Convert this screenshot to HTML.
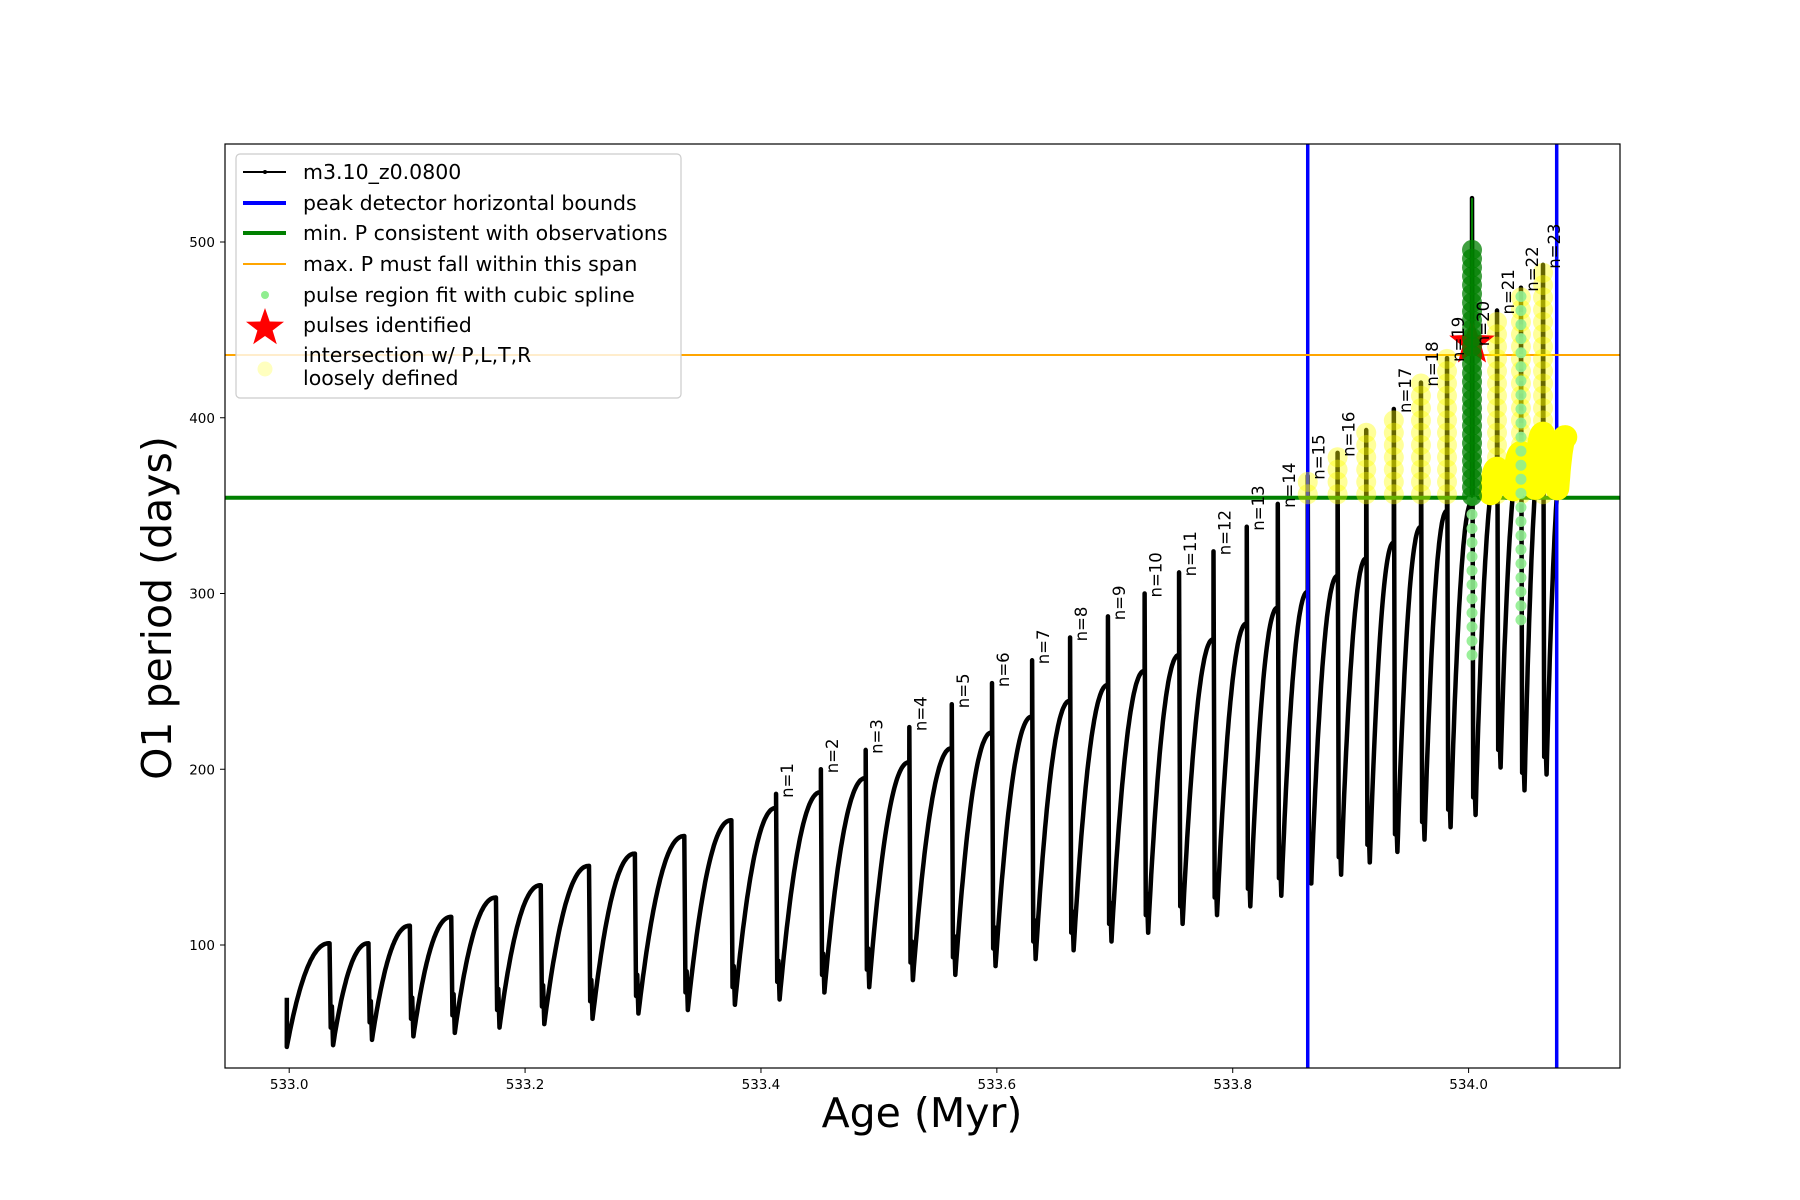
<!DOCTYPE html>
<html><head><meta charset="utf-8"><style>
html,body{margin:0;padding:0;background:#fff;}
svg{display:block;font-family:"DejaVu Sans","Liberation Sans",sans-serif;}
</style></head><body>
<svg id="chart" width="1800" height="1200" viewBox="0 0 1800 1200" xmlns="http://www.w3.org/2000/svg">
<defs><clipPath id="plotclip"><rect x="225" y="144" width="1395" height="924"/></clipPath></defs>
<rect x="0" y="0" width="1800" height="1200" fill="#fff"/>
<g id="plot" clip-path="url(#plotclip)"></g>
<rect x="225" y="144" width="1395" height="924" fill="none" stroke="#000" stroke-width="1.2"/>
<g id="xticks"></g>
<g id="yticks"></g>
<text x="922" y="1127" font-size="41" text-anchor="middle">Age (Myr)</text>
<text transform="translate(160,608) rotate(-90)" font-size="41" text-anchor="middle" dominant-baseline="middle">O1 period (days)</text>
<g>
<rect x="236" y="154" width="445" height="244" rx="4" fill="rgba(255,255,255,0.8)" stroke="#ccc" stroke-width="1.2"/>
<g><line x1="243" y1="172" x2="286" y2="172" stroke="#000" stroke-width="2"/><circle cx="265" cy="172" r="2" fill="#000"/><text x="303" y="179" font-size="20.5">m3.10_z0.0800</text></g>
<g><line x1="243" y1="203" x2="286" y2="203" stroke="#00f" stroke-width="4"/><text x="303" y="210" font-size="20.5">peak detector horizontal bounds</text></g>
<g><line x1="243" y1="233" x2="286" y2="233" stroke="green" stroke-width="4"/><text x="303" y="240" font-size="20.5">min. P consistent with observations</text></g>
<g><line x1="243" y1="264" x2="286" y2="264" stroke="orange" stroke-width="2"/><text x="303" y="271" font-size="20.5">max. P must fall within this span</text></g>
<g><circle cx="265" cy="295" r="4" fill="lightgreen"/><text x="303" y="302" font-size="20.5">pulse region fit with cubic spline</text></g>
<g><polygon id="legstar" fill="red"/><text x="303" y="332" font-size="20.5">pulses identified</text></g>
<g><circle cx="265" cy="369" r="7.5" fill="rgba(255,255,0,0.25)"/><text x="303" y="362" font-size="20.5">intersection w/ P,L,T,R</text><text x="303" y="385" font-size="20.5">loosely defined</text></g>
</g>
</svg>
<script>
// ---- data ----
const dropAges=[533.0342,533.0672,533.1023,533.1374,533.1753,533.2133,533.2542,533.2931,533.3350,533.3749,
533.4128,533.4508,533.4888,533.5258,533.5618,533.5959,533.6299,533.6621,533.6942,533.7253,533.7545,533.7837,533.8119,533.8382,533.8636,533.8889,
533.9132,533.9366,533.9596,533.9817,534.0029,534.0241,534.0444,534.0631];
const peakVals=[101,101,111,116,127,134,145,152,162,171,178,187,195,204,212,221,230,239,248,256,265,274,283,292,301,310,320,329,338,347,352,371,380,391];
const spikeTops=[101,101,111,116,127,134,145,152,162,171,186,200,211,224,237,249,262,275,287,300,312,324,338,351,367,380,393,405,420,434,525,461,474,487];
const labelVals=[101,101,111,116,127,134,145,152,162,171,186,200,211,224,237,249,262,275,287,300,312,324,338,351,367,380,393,405,420,434,443,461,474,487];
const minVals=[42,43,46,48,50,53,55,58,61,63,66,69,73,76,80,83,88,92,97,102,107,112,117,122,128,135,140,147,153,160,167,174,201,188,197];
const pulseLabels=["","","","","","","","","","","n=1","n=2","n=3","n=4","n=5","n=6","n=7","n=8","n=9","n=10","n=11","n=12","n=13","n=14","n=15","n=16","","n=17","n=18","n=19","n=20","n=21","n=22","n=23"];
const startAge=532.998, startSpike=70, endAge=534.082, endPeak=389;
const boundAges=[533.8636,534.0747];
const minP=354.5, maxP=435.7;
const starAge=534.0029, starP=442.5;
const xTicks=[533.0,533.2,533.4,533.6,533.8,534.0];
const xTickLabels=["533.0","533.2","533.4","533.6","533.8","534.0"];
const yTicks=[100,200,300,400,500];
const yTickLabels=["100","200","300","400","500"];

// ---- scales ----
const X=a=>289.2+(a-533)*1179.4;
const Y=p=>945-(p-100)*1.7575;
const NS="http://www.w3.org/2000/svg";
const plot=document.getElementById('plot');
function mk(tag,attrs,parent){const e=document.createElementNS(NS,tag);for(const k in attrs)e.setAttribute(k,attrs[k]);(parent||plot).appendChild(e);return e;}

// segments
const segs=[];
for(let k=0;k<=dropAges.length;k++){
  const a0=k===0?startAge:dropAges[k-1]+0.003;
  const a1=k<dropAges.length?dropAges[k]:endAge;
  const mn=minVals[k], pk=k<dropAges.length?peakVals[k]:endPeak;
  const pts=[];
  for(let i=0;i<=40;i++){const t=i/40;pts.push([a0+(a1-a0)*t,mn+(pk-mn)*(1-Math.pow(1-t,2.2))]);}
  segs.push(pts);
}
// black curve
let d=`M${X(startAge)},${Y(startSpike)}`;
segs.forEach((pts,k)=>{
  pts.forEach(p=>{d+=`L${X(p[0]).toFixed(1)},${Y(p[1]).toFixed(1)}`;});
  if(k<dropAges.length){
    const a=dropAges[k], mn=minVals[k+1];
    d+=`L${X(a)},${Y(spikeTops[k])}L${X(a+0.001)},${Y(mn+10)}L${X(a+0.002)},${Y(mn+22)}L${X(a+0.003)},${Y(mn)}`;
  }
});
const curve=mk('path',{d:d,fill:'none',stroke:'#000','stroke-width':4.5,'stroke-linejoin':'round'});



// bounds lines
boundAges.forEach((a,i)=>{
  const l=mk('line',{x1:X(a),x2:X(a),y1:140,y2:1072,stroke:'#00f','stroke-width':3.5});
  
  
});
const gl=mk('line',{x1:225,x2:1620,y1:Y(minP),y2:Y(minP),stroke:'green','stroke-width':4});


const ol=mk('line',{x1:225,x2:1620,y1:Y(maxP),y2:Y(maxP),stroke:'orange','stroke-width':2});



// yellow thick rising curves after n=20
for(let k=31;k<segs.length;k++){
  const pts=segs[k].filter(p=>p[1]>minP+2);
  if(pts.length<2)continue;
  let dd='';pts.forEach((p,i)=>{dd+=(i?'L':'M')+X(p[0]).toFixed(1)+','+Y(p[1]).toFixed(1);});
  const y=mk('path',{d:dd,fill:'none',stroke:'#ffff00','stroke-width':24,'stroke-linecap':'round','stroke-linejoin':'round'});
  
  
}
// yellow circles on spikes
dropAges.forEach((a,k)=>{
  if(spikeTops[k]<=minP+5||k===30)return;
  for(let p=minP+2;p<=spikeTops[k];p+=7){
    const c=mk('circle',{cx:X(a),cy:Y(p),r:10,fill:'rgba(255,255,0,0.4)'});
    
    
  }
});
// light green spline points
[[30,265,minP],[32,285,472]].forEach(([k,lo,hi])=>{
  for(let p=lo;p<=hi;p+=8){
    const c=mk('circle',{cx:X(dropAges[k]),cy:Y(p),r:5.5,fill:'rgba(144,238,144,0.9)'});
    
    
  }
});
// red star
function starPts(cx,cy,R,r){let s='';for(let i=0;i<10;i++){const ang=-Math.PI/2+i*Math.PI/5;const rr=i%2?r:R;s+=(cx+rr*Math.cos(ang)).toFixed(1)+','+(cy+rr*Math.sin(ang)).toFixed(1)+' ';}return s;}
const st=mk('polygon',{points:starPts(X(starAge),Y(starP),24,10),fill:'red'});


document.getElementById('legstar').setAttribute('points',starPts(265,328,20,8));
// dark green column at n=20
const k20=30;
const gline=mk('line',{x1:X(dropAges[k20]),x2:X(dropAges[k20]),y1:Y(spikeTops[k20]),y2:Y(minP),stroke:'green','stroke-width':2});


for(let p=minP+1;p<=496;p+=5){
  const c=mk('circle',{cx:X(dropAges[k20]),cy:Y(p),r:10,fill:'rgba(0,128,0,0.75)'});
  
  
}
// pulse labels
dropAges.forEach((a,k)=>{
  if(!pulseLabels[k])return;
  const t=mk('text',{transform:`translate(${(X(a)+17).toFixed(1)},${(Y(labelVals[k])+4).toFixed(1)}) rotate(-90)`,'font-size':16.5,fill:'#000'});
  t.textContent=pulseLabels[k];
  
  
});
// ticks
const xg=document.getElementById('xticks'), yg=document.getElementById('yticks');
xTicks.forEach((v,i)=>{
  const l=mk('line',{x1:X(v),x2:X(v),y1:1068,y2:1073,stroke:'#000','stroke-width':1},xg);
  
  
  const t=mk('text',{x:X(v),y:1089,'font-size':13.5,'text-anchor':'middle'},xg);
  t.textContent=xTickLabels[i];
  
  
});
yTicks.forEach((v,i)=>{
  const l=mk('line',{x1:220,x2:225,y1:Y(v),y2:Y(v),stroke:'#000','stroke-width':1},yg);
  
  
  const t=mk('text',{x:215,y:Y(v)+5,'font-size':13.5,'text-anchor':'end'},yg);
  t.textContent=yTickLabels[i];
  
  
});
</script>
</body></html>
